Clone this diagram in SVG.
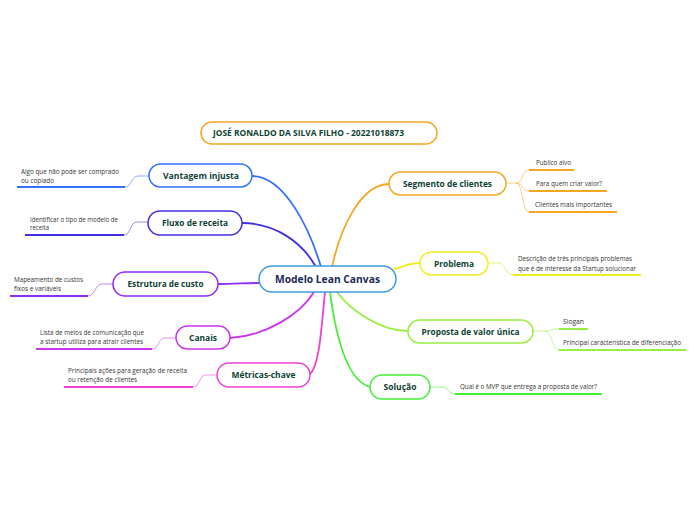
<svg xmlns="http://www.w3.org/2000/svg" width="696" height="520" viewBox="0 0 696 520">
<style>
.bg{fill:#ffffff}
.node{fill:#ffffff;stroke-width:1.5}
.nt{font-family:"Open Sans","Noto Sans",sans-serif;font-weight:700;font-size:8.5px;fill:#0e3f33;text-anchor:middle}
.ct{font-family:"Open Sans","Noto Sans",sans-serif;font-weight:700;font-size:11px;fill:#1c2a52;text-anchor:middle}
.lt{font-family:"Open Sans","Noto Sans",sans-serif;font-size:6.5px;fill:#333333}
.br{fill:none;stroke-width:1.8;stroke-linecap:round}
.lc{fill:none;stroke-width:1;opacity:0.55}
.ul{fill:none;stroke-width:2}
</style>
<rect class="bg" x="0" y="0" width="696" height="520"/>
<g id="connectors">
  <path class="br" stroke="#3370ff" d="M252,176 C285,176 310,230 321,267"/>
  <path class="br" stroke="#4030e0" d="M242,223 C275,223 302,242 316,267"/>
  <path class="br" stroke="#f5a623" d="M389,184 C360,184 340,230 332,267"/>
  <path class="br" stroke="#8f2cf5" d="M218,284 C235,284 245,283 259,283"/>
  <path class="br" stroke="#eeee22" d="M420,263 C406,263 402,268 394,269"/>
  <path class="br" stroke="#cc33ee" d="M230,338 C265,336 300,315 314,292"/>
  <path class="br" stroke="#f040d0" d="M310,374 C320,365 322,320 325,292"/>
  <path class="br" stroke="#44ee33" d="M370,387 C345,380 335,330 330,292"/>
  <path class="br" stroke="#99ee44" d="M408,331 C380,331 350,310 337,292"/>

  <path class="lc" stroke="#3370ff" d="M149,176 L138,176 C131,176 132,187 125,187"/>
  <path class="ul" stroke="#3370ff" d="M125,187 L17,187"/>
  <path class="lc" stroke="#4030e0" d="M148,222 L137,222 C130,222 131,235 124,235"/>
  <path class="ul" stroke="#4030e0" d="M124,235 L25,235"/>
  <path class="lc" stroke="#8f2cf5" d="M113,284 L102,284 C95,284 95,296 88,296"/>
  <path class="ul" stroke="#8f2cf5" d="M88,296 L10,296"/>
  <path class="lc" stroke="#cc33ee" d="M176,338 L165,338 C158,338 159,349 152,349"/>
  <path class="ul" stroke="#cc33ee" d="M152,349 L36,349"/>
  <path class="lc" stroke="#f040d0" d="M217,375 L206,375 C199,375 200,387 193,387"/>
  <path class="ul" stroke="#f040d0" d="M193,387 L64,387"/>

  <path class="lc" stroke="#f5a623" d="M506,183 L516,183 C523,183 522,170 529,170 M516,183 C523,183 522,191 529,191 M516,183 C523,183 522,212 529,212"/>
  <path class="ul" stroke="#f5a623" d="M529,170 L574,170 M529,191 L607,191 M529,212 L617,212"/>
  <path class="lc" stroke="#dddd11" d="M488,263 L498,263 C505,263 506,275 513,275"/>
  <path class="ul" stroke="#eeee22" d="M513,275 L641,275"/>
  <path class="lc" stroke="#99ee44" d="M533,331 L545,331 C552,331 552,329 559,329 M545,331 C552,331 552,350 559,350"/>
  <path class="ul" stroke="#99ee44" d="M559,329 L588,329 M559,350 L686,350"/>
  <path class="lc" stroke="#44ee33" d="M430,387 L442,387 C449,387 448,394 455,394"/>
  <path class="ul" stroke="#44ee33" d="M455,394 L602,394"/>
</g>

<g id="title">
  <rect class="node" stroke="#f5a623" x="201" y="122" width="236" height="22" rx="11"/>
  <text class="nt" x="308.5" y="136" textLength="191" lengthAdjust="spacingAndGlyphs">JOSÉ RONALDO DA SILVA FILHO - 20221018873</text>
</g>
<g id="center">
  <rect class="node" stroke="#3d9be0" x="259" y="266" width="137" height="26" rx="13"/>
  <text class="ct" x="327.5" y="283" textLength="105" lengthAdjust="spacingAndGlyphs">Modelo Lean Canvas</text>
</g>
<g id="vantagem">
  <rect class="node" stroke="#3370ff" x="149" y="164" width="103" height="23" rx="11.5"/>
  <text class="nt" x="201" y="179" textLength="76" lengthAdjust="spacingAndGlyphs">Vantagem injusta</text>
  <text class="lt" x="21" y="174" textLength="98" lengthAdjust="spacingAndGlyphs">Algo que não pode ser comprado</text>
  <text class="lt" x="21" y="182.5" textLength="33" lengthAdjust="spacingAndGlyphs">ou copiado</text>
</g>
<g id="fluxo">
  <rect class="node" stroke="#4030e0" x="148" y="211" width="94" height="24" rx="12"/>
  <text class="nt" x="195" y="226" textLength="66" lengthAdjust="spacingAndGlyphs">Fluxo de receita</text>
  <text class="lt" x="30" y="221.5" textLength="88" lengthAdjust="spacingAndGlyphs">Identificar o tipo de modelo de</text>
  <text class="lt" x="30" y="229.5" textLength="19" lengthAdjust="spacingAndGlyphs">receita</text>
</g>
<g id="estrutura">
  <rect class="node" stroke="#8f2cf5" x="113" y="272" width="105" height="24" rx="12"/>
  <text class="nt" x="165.5" y="287" textLength="76" lengthAdjust="spacingAndGlyphs">Estrutura de custo</text>
  <text class="lt" x="14" y="281.5" textLength="69" lengthAdjust="spacingAndGlyphs">Mapeamento de custos</text>
  <text class="lt" x="14" y="291" textLength="47" lengthAdjust="spacingAndGlyphs">fixos e variáveis</text>
</g>
<g id="canais">
  <rect class="node" stroke="#cc33ee" x="176" y="326" width="54" height="23" rx="11.5"/>
  <text class="nt" x="203" y="340.5" textLength="28" lengthAdjust="spacingAndGlyphs">Canais</text>
  <text class="lt" x="40" y="334.5" textLength="104" lengthAdjust="spacingAndGlyphs">Lista de meios de comunicação que</text>
  <text class="lt" x="40" y="343.5" textLength="103" lengthAdjust="spacingAndGlyphs">a startup utiliza para atrair clientes</text>
</g>
<g id="metricas">
  <rect class="node" stroke="#f040d0" x="217" y="363" width="93" height="24" rx="12"/>
  <text class="nt" x="263.5" y="378" textLength="64" lengthAdjust="spacingAndGlyphs">Métricas-chave</text>
  <text class="lt" x="68" y="372.5" textLength="119" lengthAdjust="spacingAndGlyphs">Principais ações para geração de receita</text>
  <text class="lt" x="68" y="382" textLength="69" lengthAdjust="spacingAndGlyphs">ou retenção de clientes</text>
</g>
<g id="segmento">
  <rect class="node" stroke="#f5a623" x="389" y="172" width="117" height="23" rx="11.5"/>
  <text class="nt" x="447.5" y="186.5" textLength="89" lengthAdjust="spacingAndGlyphs">Segmento de clientes</text>
  <text class="lt" x="536" y="164.5" textLength="35" lengthAdjust="spacingAndGlyphs">Publico alvo</text>
  <text class="lt" x="536" y="185.5" textLength="66" lengthAdjust="spacingAndGlyphs">Para quem criar valor?</text>
  <text class="lt" x="535" y="206.5" textLength="77" lengthAdjust="spacingAndGlyphs">Clientes mais importantes</text>
</g>
<g id="problema">
  <rect class="node" stroke="#eeee22" x="420" y="252" width="68" height="23" rx="11.5"/>
  <text class="nt" x="454" y="266.5" textLength="40" lengthAdjust="spacingAndGlyphs">Problema</text>
  <text class="lt" x="518" y="260.5" textLength="114" lengthAdjust="spacingAndGlyphs">Descrição de três principais problemas</text>
  <text class="lt" x="518" y="270.5" textLength="118" lengthAdjust="spacingAndGlyphs">que é de interesse da Startup solucionar</text>
</g>
<g id="proposta">
  <rect class="node" stroke="#99ee44" x="408" y="320" width="125" height="23" rx="11.5"/>
  <text class="nt" x="470.5" y="334.5" textLength="98" lengthAdjust="spacingAndGlyphs">Proposta de valor única</text>
  <text class="lt" x="563" y="323.5" textLength="21" lengthAdjust="spacingAndGlyphs">Slogan</text>
  <text class="lt" x="563" y="344.5" textLength="118" lengthAdjust="spacingAndGlyphs">Principal característica de diferenciação</text>
</g>
<g id="solucao">
  <rect class="node" stroke="#44ee33" x="370" y="375" width="60" height="24" rx="12"/>
  <text class="nt" x="400" y="390" textLength="33" lengthAdjust="spacingAndGlyphs">Solução</text>
  <text class="lt" x="460" y="388.5" textLength="137" lengthAdjust="spacingAndGlyphs">Qual é o MVP que entrega a proposta de valor?</text>
</g>
</svg>
